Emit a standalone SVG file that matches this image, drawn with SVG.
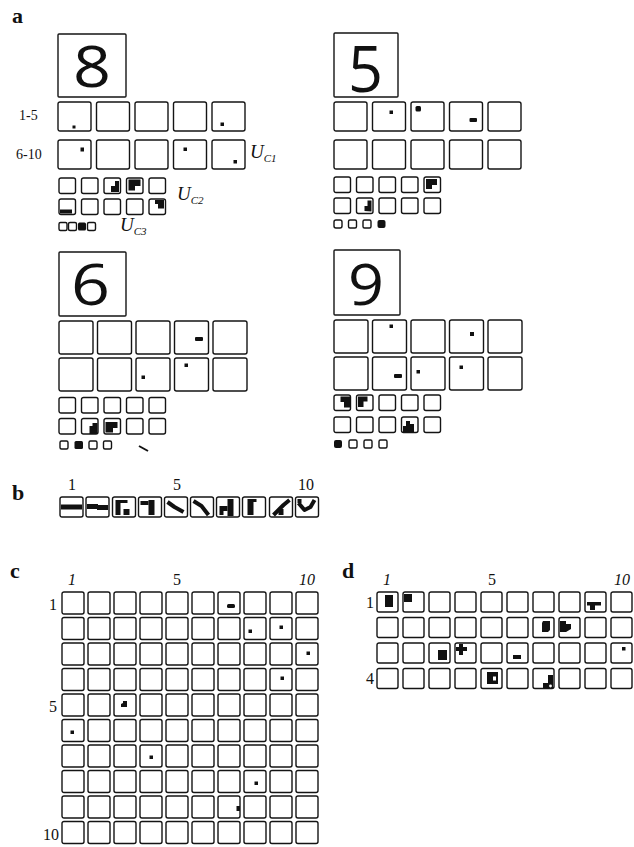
<svg xmlns="http://www.w3.org/2000/svg" xmlns:xlink="http://www.w3.org/1999/xlink" width="634" height="847" viewBox="0 0 634 847">
<style>
.b{fill:#fff;stroke:#141414;stroke-width:1.4}
.k{fill:#111}
.w{fill:#fff}
.st{fill:none;stroke:#111;stroke-width:4;stroke-linejoin:round}
.lab{font-family:"Liberation Serif","DejaVu Serif",serif;fill:#111}
.pl{font-family:"Liberation Serif","DejaVu Serif",serif;font-weight:bold;font-size:22px;fill:#111}
.num{font-size:16px}
.it{font-style:italic}
.dig{font-family:"Open Sans","Liberation Sans",sans-serif;font-weight:400;fill:#111}
</style>
<defs>
<g id="bigT">
<rect class="b" x="0" y="0" width="33" height="29" rx="2"/>
<rect class="b" x="38.5" y="0" width="33" height="29" rx="2"/>
<rect class="b" x="77" y="0" width="33" height="29" rx="2"/>
<rect class="b" x="115.5" y="0" width="33" height="29" rx="2"/>
<rect class="b" x="154" y="0" width="33" height="29" rx="2"/>
</g>
<g id="bigB">
<rect class="b" x="0" y="0" width="34" height="33" rx="2"/>
<rect class="b" x="38.5" y="0" width="34" height="33" rx="2"/>
<rect class="b" x="77" y="0" width="34" height="33" rx="2"/>
<rect class="b" x="115.5" y="0" width="34" height="33" rx="2"/>
<rect class="b" x="154" y="0" width="34" height="33" rx="2"/>
</g>
<g id="mid">
<rect class="b" x="0" y="0" width="16.5" height="15.5" rx="2"/>
<rect class="b" x="22.5" y="0" width="16.5" height="15.5" rx="2"/>
<rect class="b" x="45" y="0" width="16.5" height="15.5" rx="2"/>
<rect class="b" x="67.5" y="0" width="16.5" height="15.5" rx="2"/>
<rect class="b" x="90" y="0" width="16.5" height="15.5" rx="2"/>
</g>
<g id="rowC">
<rect class="b" x="0" y="0" width="22" height="22" rx="2"/>
<rect class="b" x="26" y="0" width="22" height="22" rx="2"/>
<rect class="b" x="52" y="0" width="22" height="22" rx="2"/>
<rect class="b" x="78" y="0" width="22" height="22" rx="2"/>
<rect class="b" x="104" y="0" width="22" height="22" rx="2"/>
<rect class="b" x="130" y="0" width="22" height="22" rx="2"/>
<rect class="b" x="156" y="0" width="22" height="22" rx="2"/>
<rect class="b" x="182" y="0" width="22" height="22" rx="2"/>
<rect class="b" x="208" y="0" width="22" height="22" rx="2"/>
<rect class="b" x="234" y="0" width="22" height="22" rx="2"/>
</g>
<g id="rowD">
<rect class="b" x="0" y="0" width="21" height="20" rx="2"/>
<rect class="b" x="26" y="0" width="21" height="20" rx="2"/>
<rect class="b" x="52" y="0" width="21" height="20" rx="2"/>
<rect class="b" x="78" y="0" width="21" height="20" rx="2"/>
<rect class="b" x="104" y="0" width="21" height="20" rx="2"/>
<rect class="b" x="130" y="0" width="21" height="20" rx="2"/>
<rect class="b" x="156" y="0" width="21" height="20" rx="2"/>
<rect class="b" x="182" y="0" width="21" height="20" rx="2"/>
<rect class="b" x="208" y="0" width="21" height="20" rx="2"/>
<rect class="b" x="234" y="0" width="21" height="20" rx="2"/>
</g>
</defs>
<rect width="634" height="847" fill="#fff"/>

<text class="pl" x="12" y="23">a</text>

<g id="block-8">
<rect class="b" x="58" y="34" width="68" height="63" rx="1"/>
<text class="dig" x="73" y="87" font-size="56" textLength="38" lengthAdjust="spacingAndGlyphs">8</text>
<text class="lab" x="19" y="120" font-size="14">1-5</text>
<text class="lab" x="16" y="159" font-size="14">6-10</text>
<use xlink:href="#bigT" x="58" y="102"/>
<use xlink:href="#bigT" x="58" y="140"/>
<rect class="k" x="72.5" y="125.5" width="3" height="3"/>
<rect class="k" x="220.5" y="122.5" width="3.5" height="3.5"/>
<rect class="k" x="80.5" y="147.5" width="3.5" height="4"/>
<rect class="k" x="183.5" y="147.5" width="3.5" height="3.5"/>
<rect class="k" x="233.5" y="160" width="3.5" height="3.5"/>
<text class="lab it" x="250" y="158" font-size="19">U<tspan font-size="11" dy="4">C1</tspan></text>
<use xlink:href="#mid" x="59" y="178"/>
<use xlink:href="#mid" x="59" y="199"/>
<path class="k" d="M111,192 L111,186 L115,186 L115,181 L119,181 L119,192 Z"/>
<path class="k" d="M128.5,179.5 L140.5,179.5 L140.5,186 L135,186 L135,190.5 L128.5,190.5 Z"/>
<rect class="k" x="60" y="209.5" width="12" height="4"/>
<path class="k" d="M155,200 L164,200 L164,208.5 L158,208.5 L158,204 L155,204 Z"/>
<text class="lab it" x="177" y="200" font-size="19">U<tspan font-size="11" dy="4">C2</tspan></text>
<rect class="b" x="59" y="222.5" width="8" height="8" rx="1.5"/>
<rect class="b" x="68.5" y="222.5" width="8" height="8" rx="1.5"/>
<rect class="k" x="78" y="222.5" width="8" height="8" rx="1.5"/>
<rect class="b" x="87.5" y="222.5" width="8" height="8" rx="1.5"/>
<text class="lab it" x="120" y="231" font-size="19">U<tspan font-size="11" dy="4">C3</tspan></text>
</g>

<g id="block-5">
<rect class="b" x="334" y="33" width="64" height="64" rx="1"/>
<text class="dig" x="348" y="92" font-size="64" textLength="35" lengthAdjust="spacingAndGlyphs">5</text>
<use xlink:href="#bigT" x="334" y="102"/>
<use xlink:href="#bigT" x="334" y="140"/>
<rect class="k" x="389.5" y="110.5" width="3.5" height="3.5"/>
<rect class="k" x="415.5" y="106" width="5.5" height="5.5" rx="1.5"/>
<rect class="k" x="469.5" y="118" width="7.5" height="4" rx="1"/>
<use xlink:href="#mid" x="334" y="177"/>
<use xlink:href="#mid" x="334" y="198"/>
<path class="k" d="M426,179 L437,179 L437,185 L432,185 L432,189 L426,189 Z"/>
<path class="k" d="M364.5,211 L364.5,206 L367.5,206 L367.5,200.5 L371.5,200.5 L371.5,211.5 Z"/>
<rect class="b" x="334" y="220" width="8" height="8" rx="2"/>
<rect class="b" x="348.5" y="220" width="8" height="8" rx="1.5"/>
<rect class="b" x="363" y="220" width="8" height="8" rx="1.5"/>
<rect class="k" x="377.5" y="220" width="8" height="8" rx="2"/>
</g>

<g id="block-6">
<rect class="b" x="59" y="252" width="67" height="64" rx="1"/>
<text class="dig" x="71" y="305" font-size="56" textLength="39" lengthAdjust="spacingAndGlyphs">6</text>
<use xlink:href="#bigB" x="59" y="321"/>
<use xlink:href="#bigB" x="59" y="358"/>
<rect class="k" x="195" y="337" width="8" height="4" rx="1"/>
<rect class="k" x="141.5" y="375.5" width="3.5" height="3.5"/>
<rect class="k" x="184.5" y="363.5" width="3.5" height="3.5"/>
<use xlink:href="#mid" x="59" y="397.5"/>
<use xlink:href="#mid" x="59" y="418.5"/>
<path class="k" d="M89.5,434 L89.5,426 L92.5,426 L92.5,423 L97.5,423 L97.5,434 Z"/>
<path class="k" d="M105.5,422 L117.5,422 L117.5,428 L113,428 L113,432.5 L105.5,432.5 Z"/>
<rect class="b" x="60" y="441" width="8" height="8" rx="1.5"/>
<rect class="k" x="74.5" y="441" width="8.5" height="8" rx="1.5"/>
<rect class="b" x="89" y="441" width="8" height="8" rx="1.5"/>
<rect class="b" x="103.5" y="441" width="8" height="8" rx="1.5"/>
<line x1="139" y1="446" x2="148" y2="451" stroke="#111" stroke-width="2"/>
</g>

<g id="block-9">
<rect class="b" x="334" y="250" width="66" height="65" rx="1"/>
<text class="dig" x="348" y="305" font-size="56" textLength="36" lengthAdjust="spacingAndGlyphs">9</text>
<use xlink:href="#bigB" x="334" y="320"/>
<use xlink:href="#bigB" x="334" y="357"/>
<rect class="k" x="389.5" y="324.5" width="3.5" height="3.5"/>
<rect class="k" x="470" y="332" width="4" height="4"/>
<rect class="k" x="394" y="374" width="8" height="4" rx="1"/>
<rect class="k" x="416.5" y="370" width="3.5" height="3.5"/>
<rect class="k" x="459.5" y="365.5" width="3.5" height="3.5"/>
<use xlink:href="#mid" x="334" y="395"/>
<use xlink:href="#mid" x="334" y="417"/>
<path class="k" d="M340.5,396.5 L351,396.5 L351,407.5 L344,407.5 L344,402 L340.5,402 Z"/>
<path class="k" d="M358,396.5 L367.5,396.5 L367.5,401.5 L363.5,401.5 L363.5,407 L358,407 Z"/>
<path class="k" d="M406,421 L410,421 L410,424 L414,424 L414,432 L403,432 L403,426 L406,426 Z"/>
<rect class="k" x="334" y="440" width="8" height="8" rx="2"/>
<rect class="b" x="349" y="440" width="8" height="8" rx="1.5"/>
<rect class="b" x="364" y="440" width="8" height="8" rx="1.5"/>
<rect class="b" x="379" y="440" width="8" height="8" rx="1.5"/>
</g>

<g id="panel-b">
<text class="pl" x="12" y="500">b</text>
<text class="lab num" x="72" y="490" text-anchor="middle">1</text>
<text class="lab num" x="177" y="490" text-anchor="middle">5</text>
<text class="lab num" x="306" y="490" text-anchor="middle">10</text>
<g transform="translate(60,497)"><rect class="b" width="23" height="20" rx="2"/><rect class="k" x="1" y="7.5" width="21" height="5"/></g>
<g transform="translate(86,497)"><rect class="b" width="23" height="20" rx="2"/><path class="k" d="M1,7 L12,7 L12,8 L22,8 L22,13 L11,13 L11,12 L1,12 Z"/></g>
<g transform="translate(112.5,497)"><rect class="b" width="23" height="20" rx="2"/><path class="k" d="M3,3 L15,3 L15,6 L8,6 L8,18 L3,18 Z"/><rect class="k" x="11" y="12" width="6" height="6"/></g>
<g transform="translate(138.5,497)"><rect class="b" width="23" height="20" rx="2"/><rect class="k" x="10" y="3" width="6" height="15"/><rect class="k" x="2" y="4" width="8" height="4"/></g>
<g transform="translate(164.5,497)"><rect class="b" width="23" height="20" rx="2"/><path class="st" d="M3,5 L10,10 L19,15"/></g>
<g transform="translate(190.5,497)"><rect class="b" width="23" height="20" rx="2"/><path class="st" d="M3,4 L11,9 L18,18" stroke-width="4.5"/></g>
<g transform="translate(216.5,497)"><rect class="b" width="23" height="20" rx="2"/><rect class="k" x="11" y="2" width="6" height="17"/><rect class="k" x="3" y="9" width="8" height="5"/><rect class="k" x="3" y="14" width="4" height="4"/></g>
<g transform="translate(242.5,497)"><rect class="b" width="23" height="20" rx="2"/><path class="k" d="M5,2 L14,2 L14,5 L11,5 L11,18 L5,18 Z"/></g>
<g transform="translate(269.5,497)"><rect class="b" width="23" height="20" rx="2"/><path class="st" d="M4,18 L10,12 L14,8 L20,3"/><rect class="k" x="9" y="12" width="5" height="6"/></g>
<g transform="translate(295.5,497)"><rect class="b" width="23" height="20" rx="2"/><path class="st" d="M3,6 L9,13 L15,10 L19,3"/><rect class="k" x="2" y="2" width="4" height="4"/></g>
</g>

<g id="panel-c">
<text class="pl" x="10" y="578">c</text>
<text class="lab num it" x="72" y="585" text-anchor="middle">1</text>
<text class="lab num" x="177" y="585" text-anchor="middle">5</text>
<text class="lab num it" x="307" y="585" text-anchor="middle">10</text>
<text class="lab num" x="57" y="610" text-anchor="end">1</text>
<text class="lab num" x="57" y="712" text-anchor="end">5</text>
<text class="lab num" x="59" y="840" text-anchor="end">10</text>
<use xlink:href="#rowC" x="62" y="592"/>
<use xlink:href="#rowC" x="62" y="617.5"/>
<use xlink:href="#rowC" x="62" y="643"/>
<use xlink:href="#rowC" x="62" y="668.5"/>
<use xlink:href="#rowC" x="62" y="694"/>
<use xlink:href="#rowC" x="62" y="719.5"/>
<use xlink:href="#rowC" x="62" y="745"/>
<use xlink:href="#rowC" x="62" y="770.5"/>
<use xlink:href="#rowC" x="62" y="796"/>
<use xlink:href="#rowC" x="62" y="821.5"/>
<rect class="k" x="227" y="604" width="8" height="4" rx="1.5"/>
<rect class="k" x="248.5" y="629.5" width="3.5" height="3.5"/>
<rect class="k" x="279.5" y="625.5" width="3.5" height="3.5"/>
<rect class="k" x="306.5" y="651.5" width="3.5" height="3.5"/>
<rect class="k" x="280.5" y="676.5" width="3.5" height="3.5"/>
<path class="k" d="M123,701 L127,701 L127,707 L121,707 L121,704 L123,703 Z"/>
<rect class="k" x="70.5" y="730.5" width="3.5" height="3.5"/>
<rect class="k" x="149.5" y="755.5" width="3.5" height="3.5"/>
<rect class="k" x="254.5" y="781.5" width="3.5" height="3.5"/>
<rect class="k" x="236.5" y="806" width="3.5" height="5"/>
</g>

<g id="panel-d">
<text class="pl" x="342" y="578">d</text>
<text class="lab num it" x="387" y="585" text-anchor="middle">1</text>
<text class="lab num" x="492" y="585" text-anchor="middle">5</text>
<text class="lab num it" x="622" y="585" text-anchor="middle">10</text>
<text class="lab num" x="374" y="608" text-anchor="end">1</text>
<text class="lab num" x="374" y="684" text-anchor="end">4</text>
<use xlink:href="#rowD" x="377" y="592"/>
<use xlink:href="#rowD" x="377" y="617.5"/>
<use xlink:href="#rowD" x="377" y="643"/>
<use xlink:href="#rowD" x="377" y="668.5"/>
<rect class="k" x="385" y="595" width="8" height="12"/>
<rect class="k" x="404" y="594" width="8" height="8"/>
<path class="k" d="M587,602 L601,602 L601,605.5 L595,605.5 L595,610 L590,610 L590,605.5 L587,605.5 Z"/>
<path class="k" d="M543,621 L550,621 L550,630 L548,632 L542,632 L542,623 Z"/>
<path class="k" d="M560,621 L566,621 L566,624 L571,624 L571,629 L566,632 L560,632 Z"/>
<rect class="k" x="438" y="650" width="9" height="10"/>
<path class="k" d="M459,644 L463,644 L463,647 L467,647 L467,651 L463,651 L463,655 L459,655 L459,651 L456,651 L456,647 L459,647 Z"/>
<rect class="k" x="513" y="655" width="8" height="4"/>
<rect class="k" x="622" y="647" width="3.5" height="3.5"/>
<path class="k" d="M487,672 L498,672 L498,684 L487,684 Z"/>
<rect class="w" x="493" y="676.5" width="3" height="4"/>
<path class="k" d="M548,675 L553,675 L553,688 L543,688 L543,683 L548,683 Z"/>
<circle class="w" cx="550.5" cy="686" r="1.4"/>
</g>
</svg>
